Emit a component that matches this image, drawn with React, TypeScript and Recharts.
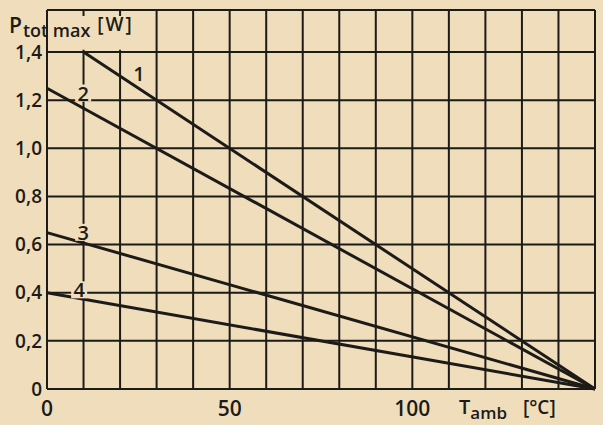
import React from "react";
import {
  LineChart,
  Line,
  XAxis,
  YAxis,
  CartesianGrid,
  ReferenceLine,
  ReferenceArea,
  ReferenceDot,
} from "recharts";

// ambient temperature axis (degC) and power axis (W)
const tempTicks = [0, 10, 20, 30, 40, 50, 60, 70, 80, 90, 100, 110, 120, 130, 140, 150];
const tempLabels = [0, 50, 100];
const powerTicks = [0, 0.2, 0.4, 0.6, 0.8, 1.0, 1.2, 1.4];
const powerTop = 1.575;

// derating curves: start point -> 150 degC at 0 W
const curveNames = ["1", "2", "3", "4"];
const curveStartT = [10, 0, 0, 0];
const curveStartP = [1.4, 1.25, 0.65, 0.4];
const curveEndT = [150, 150, 150, 150];
const curveEndP = [0, 0, 0, 0];

// where the curve numbers are written
const nameT = [25.2, 9.9, 9.9, 8.8];
const nameP = [1.31, 1.228, 0.649, 0.41];

const BG = "#f0ddbc";
const INK = "#1d1b18";
const FONT = "'Open Sans', sans-serif";

const curves = curveNames.map((name, i) => ({
  name,
  data: [
    { t: curveStartT[i], p: curveStartP[i] },
    { t: curveEndT[i], p: curveEndP[i] },
  ],
}));

const fmtPower = (v: number) => (v === 0 ? "0" : v.toFixed(1).replace(".", ","));

const CurveName = (props: any) => {
  const { cx, cy, name } = props;
  return (
    <g>
      <rect x={cx - 8} y={cy - 9} width={16} height={17} fill={BG} />
      <text
        x={cx}
        y={cy}
        dy={7}
        textAnchor="middle"
        fontFamily={FONT}
        fontWeight={600}
        fontSize={20}
        fill={INK}
      >
        {name}
      </text>
    </g>
  );
};

const YTitle = () => (
  <text x={9} y={33} fontFamily={FONT} fontWeight={600} fill={INK} fontSize={21}>
    P
    <tspan fontSize={18} dy={4} dx={1}>
      tot max
    </tspan>
    <tspan fontSize={19} dy={-6} dx={7} letterSpacing={2}>
      [W]
    </tspan>
  </text>
);

const XTitle = () => (
  <text x={459} y={414} fontFamily={FONT} fontWeight={600} fill={INK} fontSize={20}>
    T
    <tspan fontSize={17} dy={5}>
      amb
    </tspan>
    <tspan fontSize={19} dy={-5} dx={16}>
      [°C]
    </tspan>
  </text>
);

const App: React.FC = () => {
  return (
    <div
      style={{
        position: "absolute",
        left: 0,
        top: 0,
        width: 603,
        height: 425,
        background: BG,
      }}
    >
      <LineChart
        width={603}
        height={425}
        margin={{ top: 10, right: 8, left: 7, bottom: 6 }}
      >
        <CartesianGrid stroke={INK} strokeWidth={2} />
        <XAxis
          type="number"
          dataKey="t"
          domain={[0, 150]}
          ticks={tempTicks}
          tickFormatter={(v: number) => (tempLabels.includes(v) ? String(v) : "")}
          tickSize={0}
          tickMargin={12}
          height={30}
          axisLine={{ stroke: INK, strokeWidth: 2 }}
          tick={{ fill: INK, fontSize: 21, fontFamily: FONT, fontWeight: 600 }}
          interval={0}
          label={{ content: () => <XTitle /> }}
        />
        <YAxis
          type="number"
          dataKey="p"
          domain={[0, powerTop]}
          ticks={powerTicks}
          tickFormatter={fmtPower}
          tickSize={0}
          tickMargin={5}
          width={40}
          axisLine={{ stroke: INK, strokeWidth: 2 }}
          tick={{ fill: INK, fontSize: 19, fontFamily: FONT, fontWeight: 600 }}
          interval={0}
          label={{ content: () => <YTitle /> }}
        />
        <ReferenceArea
          x1={0.4}
          x2={28}
          y1={1.41}
          y2={1.55}
          fill={BG}
          fillOpacity={1}
          stroke="none"
        />
        <ReferenceLine y={powerTop} stroke={INK} strokeWidth={2} />
        <ReferenceLine x={150} stroke={INK} strokeWidth={2} />
        {curves.map((c) => (
          <Line
            key={c.name}
            data={c.data}
            dataKey="p"
            type="linear"
            stroke={INK}
            strokeWidth={3}
            dot={false}
            activeDot={false}
            isAnimationActive={false}
          />
        ))}
        {curveNames.map((name, i) => (
          <ReferenceDot
            key={"n" + name}
            x={nameT[i]}
            y={nameP[i]}
            r={0}
            shape={(props: any) => <CurveName {...props} name={name} />}
          />
        ))}
      </LineChart>
    </div>
  );
};

export default App;
